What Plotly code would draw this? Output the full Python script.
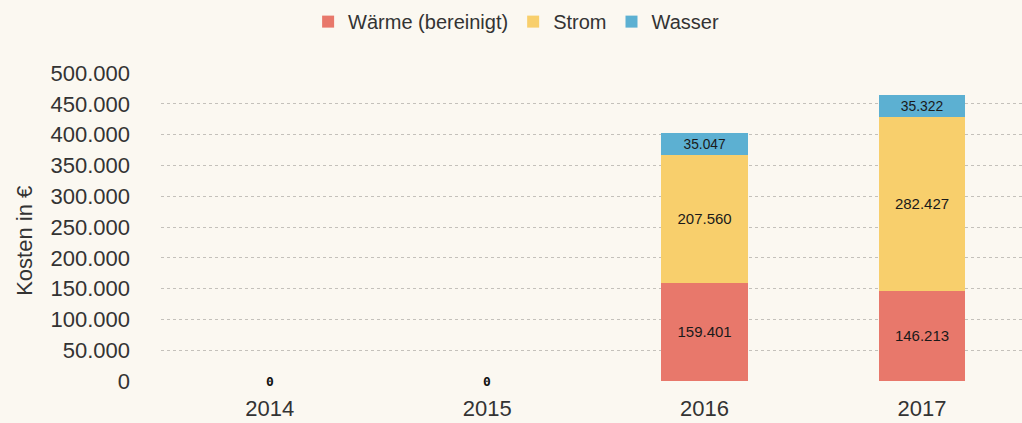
import plotly.graph_objects as go

years = ["2014", "2015", "2016", "2017"]
waerme = [0, 0, 159401, 146213]
strom = [0, 0, 207560, 282427]
wasser = [0, 0, 35047, 35322]
y_ticks = [0, 50000, 100000, 150000, 200000, 250000, 300000, 350000, 400000, 450000, 500000]

series = [
    ("Wärme (bereinigt)", waerme, "#e8786b"),
    ("Strom", strom, "#f8cf6c"),
    ("Wasser", wasser, "#5cb0d2"),
]

fig = go.Figure()
for name, vals, col in series:
    fig.add_trace(go.Bar(
        x=years, y=vals, name=name,
        marker=dict(color=col, line=dict(width=0)),
        texttemplate="%{y:,d}",
        textposition="inside",
        insidetextanchor="middle",
        textangle=0,
        textfont=dict(size=15, color="#1a1a1a"),
    ))

# "0" labels for the empty years
totals = [a + b + c for a, b, c in zip(waerme, strom, wasser)]
for i, tot in enumerate(totals):
    if tot == 0:
        fig.add_annotation(x=i, y=tot, text="<b>0</b>", showarrow=False,
                           font=dict(size=13, color="#111",
                                     family="DejaVu Sans Mono"))

# y-axis title
fig.add_annotation(text="Kosten in €", textangle=-90, showarrow=False,
                   xref="paper", yref="paper", x=-0.158, y=0.455,
                   xanchor="center", yanchor="middle",
                   font=dict(size=22, color="#333"))

fig.update_layout(
    width=1022, height=423,
    barmode="stack", bargap=0.6,
    separators=",.",
    paper_bgcolor="#fbf8f1", plot_bgcolor="#fbf8f1",
    font=dict(family="Liberation Sans, Arial, sans-serif", color="#333"),
    margin=dict(l=161, r=0, t=73, b=42),
    legend=dict(orientation="h", x=0.505, xanchor="center", xref="container",
                y=0.995, yanchor="top", yref="container", font=dict(size=20),
                traceorder="normal", itemwidth=30),
    xaxis=dict(range=[-0.5, 3.46], showgrid=False, showline=False,
               ticks="", tickfont=dict(size=22), ticklabelstandoff=12),
    yaxis=dict(range=[0, 500000], tickvals=y_ticks, tickformat=",d",
               tickfont=dict(size=22), ticklabelstandoff=30,
               gridcolor="#c4c1bb", griddash="dot", gridwidth=1,
               zeroline=False, showline=False),
)

fig.write_html("out.html", config={"displayModeBar": False},
               post_script="document.body.style.margin='0';")
